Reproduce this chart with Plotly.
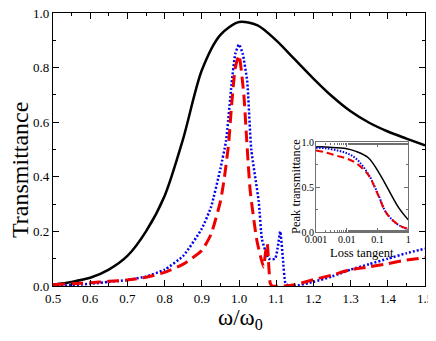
import plotly.graph_objects as go

# main panel: transmittance vs normalised frequency
x_black = [0.5, 0.55, 0.6, 0.65, 0.7, 0.75, 0.8, 0.85, 0.9, 0.95, 1.0, 1.05, 1.1,
           1.15, 1.2, 1.25, 1.3, 1.35, 1.4, 1.45, 1.5]
y_black = [0.005, 0.015, 0.03, 0.06, 0.11, 0.20, 0.33, 0.54, 0.79, 0.92, 0.967, 0.955,
           0.90, 0.83, 0.76, 0.695, 0.64, 0.598, 0.566, 0.54, 0.515]

x_blue = [0.5, 0.55, 0.6, 0.65, 0.7, 0.75, 0.8, 0.85, 0.9, 0.925, 0.95, 0.965, 0.98,
          0.99, 1.0, 1.01, 1.022, 1.033, 1.053, 1.062, 1.08, 1.097, 1.104, 1.111,
          1.118, 1.125, 1.135, 1.15, 1.2, 1.25, 1.3, 1.35, 1.4, 1.45, 1.5]
y_blue = [0.0, 0.003, 0.008, 0.015, 0.022, 0.035, 0.06, 0.11, 0.21, 0.29, 0.43, 0.53,
          0.74, 0.85, 0.885, 0.85, 0.75, 0.50, 0.31, 0.17, 0.10, 0.10, 0.14, 0.20,
          0.10, 0.01, 0.0, 0.0, 0.015, 0.035, 0.06, 0.08, 0.10, 0.12, 0.137]

x_red = [0.5, 0.55, 0.6, 0.65, 0.7, 0.75, 0.8, 0.85, 0.9, 0.925, 0.95, 0.96, 0.972,
         0.98, 0.99, 1.0, 1.013, 1.02, 1.03, 1.048, 1.066, 1.071, 1.076, 1.084, 1.09,
         1.12, 1.15, 1.2, 1.25, 1.3, 1.35, 1.4, 1.45, 1.5]
y_red = [0.005, 0.008, 0.012, 0.017, 0.022, 0.032, 0.05, 0.08, 0.13, 0.19, 0.31, 0.39,
         0.52, 0.66, 0.80, 0.845, 0.70, 0.55, 0.35, 0.167, 0.07, 0.12, 0.155, 0.01,
         0.0, 0.0, 0.005, 0.023, 0.04, 0.06, 0.07, 0.082, 0.095, 0.104]

# inset: peak transmittance vs loss tangent
tan_d = [0.001, 0.002, 0.005, 0.01, 0.02, 0.05, 0.1, 0.2, 0.5, 1.0]
peak_black = [0.95, 0.95, 0.94, 0.93, 0.90, 0.83, 0.69, 0.51, 0.27, 0.14]
peak_blue = [0.94, 0.935, 0.91, 0.88, 0.82, 0.65, 0.44, 0.21, 0.08, 0.035]
peak_red = [0.91, 0.89, 0.85, 0.82, 0.77, 0.64, 0.43, 0.21, 0.08, 0.04]

FONT = "Liberation Serif"

# page has an 8px body margin: plot area wanted at page x 53..425, y 13..286
OFF = 8
W, H = 428, 325
L, T = 53 - OFF, 13 - OFF
PW, PH = 372, 273

fig = go.Figure()

fig.add_trace(go.Scatter(x=x_black, y=y_black, mode="lines",
                         line=dict(color="black", width=2.5, shape="spline", smoothing=0.8)))
fig.add_trace(go.Scatter(x=x_blue, y=y_blue, mode="lines",
                         line=dict(color="#0000ee", width=2.5, dash="2px,2px",
                                   shape="spline", smoothing=0.5)))
fig.add_trace(go.Scatter(x=x_red, y=y_red, mode="lines",
                         line=dict(color="#ee0000", width=3, dash="12px,6px",
                                   shape="spline", smoothing=0.5)))

fig.add_trace(go.Scatter(x=tan_d, y=peak_black, mode="lines", xaxis="x2", yaxis="y2",
                         line=dict(color="black", width=1.5, shape="spline")))
fig.add_trace(go.Scatter(x=tan_d, y=peak_blue, mode="lines", xaxis="x2", yaxis="y2",
                         line=dict(color="#0000ee", width=2, dash="1.5px,1.5px", shape="spline")))
fig.add_trace(go.Scatter(x=tan_d, y=peak_red, mode="lines", xaxis="x2", yaxis="y2",
                         line=dict(color="#ee0000", width=2, dash="7px,4px", shape="spline")))

main_ax = dict(showline=True, linecolor="black", linewidth=1.2, mirror="ticks",
               ticks="inside", ticklen=6, tickwidth=1.2, tickcolor="black",
               showgrid=False, zeroline=False, automargin=False,
               ticklabeloverflow="allow",
               tickfont=dict(family=FONT, size=13, color="black"))

inset_ax = dict(showline=True, linecolor="#707070", linewidth=1.2, mirror="ticks",
                ticks="inside", ticklen=4, tickcolor="#707070", showgrid=False,
                zeroline=False, automargin=False, ticklabeloverflow="allow",
                tickfont=dict(family=FONT, size=10, color="black"))

fig.update_layout(
    width=W, height=H,
    margin=dict(l=L, r=W - L - PW, t=T, b=H - T - PH),
    paper_bgcolor="white", plot_bgcolor="white",
    showlegend=False,
    font=dict(family=FONT, color="black"),
    xaxis=dict(main_ax, range=[0.5, 1.5], dtick=0.1, tickformat=".1f",
               minor=dict(ticks="inside", ticklen=3, dtick=0.05, tickcolor="black")),
    yaxis=dict(main_ax, range=[0, 1], dtick=0.2, tickformat=".1f",
               minor=dict(ticks="inside", ticklen=3, dtick=0.1, tickcolor="black")),
    xaxis2=dict(inset_ax, domain=[0.707, 0.955], anchor="y2", type="log", range=[-3, 0],
                tickvals=[0.001, 0.01, 0.1, 1], ticktext=["0.001", "0.01", "0.1", "1"],
                ticklabelstandoff=-3,
                minor=dict(ticks="inside", ticklen=2, tickcolor="#707070", showgrid=False)),
    yaxis2=dict(inset_ax, domain=[0.196, 0.526], anchor="x2", range=[0, 1],
                tickvals=[0, 0.5, 1], ticktext=["0.0", "0.5", "1.0"],
                ticklabelstandoff=-1,
                minor=dict(ticks="inside", ticklen=2, dtick=0.25, tickcolor="#707070")),
)

fig.add_annotation(text="Transmittance", x=20, y=170, textangle=-90,
                   font=dict(family=FONT, size=24))
fig.add_annotation(text="ω/ω<sub>0</sub>", x=240, y=319,
                   font=dict(family=FONT, size=23))
fig.add_annotation(text="Peak transmittance", x=296, y=187, textangle=-90,
                   font=dict(family=FONT, size=12.5))
fig.add_annotation(text="Loss tangent", x=362, y=253,
                   font=dict(family=FONT, size=12.5))

# annotations were given in page pixels; convert to plot-area fractions
for a in fig.layout.annotations:
    a.showarrow = False
    a.xref = "paper"
    a.yref = "paper"
    a.xanchor = "center"
    a.yanchor = "middle"
    a.x = (a.x - 53) / PW
    a.y = (286 - a.y) / PH

fig.write_html("out.html")
